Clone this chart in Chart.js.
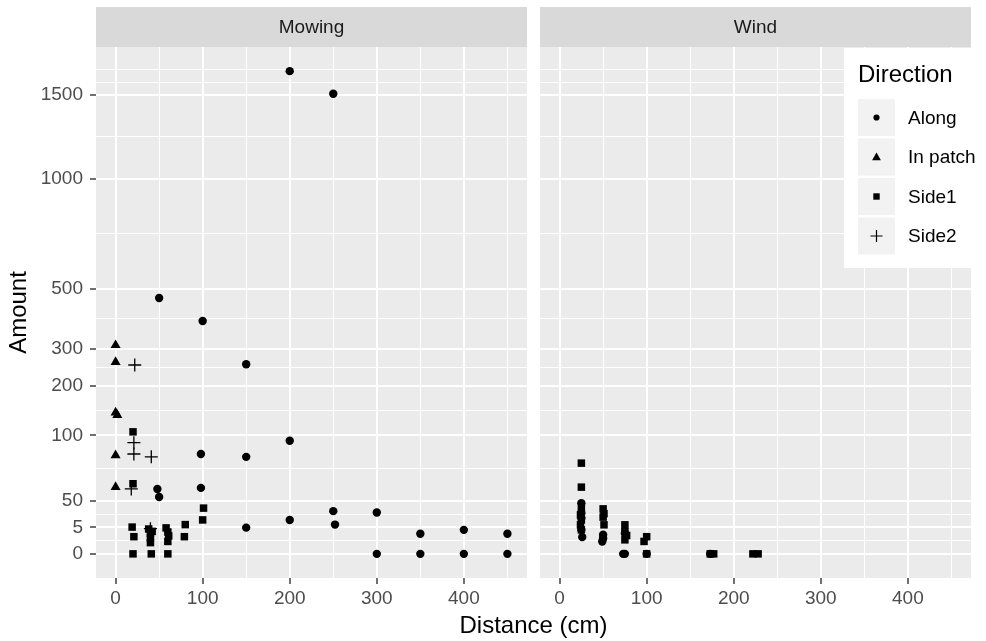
<!DOCTYPE html>
<html><head><meta charset="utf-8">
<script src="https://cdn.jsdelivr.net/npm/chart.js@4.4.1/dist/chart.umd.min.js"></script>
<style>
html,body{margin:0;padding:0;background:#fff;}
#wrap{position:relative;width:986px;height:641px;}
#wrap canvas{position:absolute;left:0;top:0;}
</style></head><body>
<div id="wrap"><canvas id="c1" width="986" height="641"></canvas><canvas id="c2" width="986" height="641"></canvas></div>
<script>
// ---------------- data (Distance cm, Amount) ----------------
const facetLabels = ['Mowing', 'Wind'];
const directions = ['Along', 'In patch', 'Side1', 'Side2'];

const mowingAlong = [[50,466],[100,386],[200,1659],[250,1507],[150,256],[200,91],[98,71],[150,67],[48,30],[50,23],[98,31],[200,8.2],[150,4.9],[250,13],[252,6.1],[300,12.2],[300,0],[350,2.9],[350,0],[400,4.1],[400,0],[450,2.9],[450,0]];
const mowingInPatch = [[0,310],[0,262],[0,142],[2,137],[0,69],[0,31.7]];
const mowingSide1 = [[20,106],[20,35],[19,5.1],[21,2.1],[20,0],[38,4.4],[40,3.0],[42,3.6],[40,1.8],[40,0.9],[41,0],[58,4.8],[60,3.4],[61,2.3],[60,1.1],[60,0],[80,6.1],[79,2.1],[101,14.9],[100,8.2]];
const mowingSide2 = [[22,254],[21,88],[21,71],[41,67],[18,30],[40,4.5]];

const windAlong = [[25,18.3],[25,11.8],[25,9.1],[25,4.1],[26,2.0],[50,2.6],[50,1.75],[49,1.1],[75,3.0],[73,0],[75,0],[100,0],[173,0]];
const windInPatch = [];
const windSide1 = [[25,58.6],[25,31.7],[25,14.4],[24,10.8],[25,8.2],[24,6.0],[25,4.1],[50,14.4],[51,11.5],[50,9.6],[51,6.0],[50,2.1],[75,6.0],[75,3.5],[77,2.4],[75,1.4],[100,2.1],[97,1.1],[100,0],[177,0],[173,0],[222,0],[228,0]];
const windSide2 = [];

// axis ticks
const xTickValues = [0, 100, 200, 300, 400];
const xMinorValues = [50, 150, 250, 350, 450];
const yTickValues = [0, 5, 20, 100, 200, 300, 500, 1000, 1500];
const yTickLabels = ['0', '5', '50', '100', '200', '300', '500', '1000', '1500'];
const yMinorExtra = [1582, 1673];

// ---------------- layout / style ----------------
const FONT = '"Liberation Sans", Arial, Helvetica, sans-serif';
Chart.defaults.font.family = FONT;
const P1 = {left: 96, right: 527};
const P2 = {left: 540, right: 971};
const TOP = 47, BOTTOM = 578, W = 986, H = 641, STRIP = 40;

const allPts = [].concat(mowingAlong, mowingInPatch, mowingSide1, mowingSide2, windAlong, windInPatch, windSide1, windSide2);
const xMaxData = Math.max(...allPts.map(p => p[0]));
const xMinData = Math.min(...allPts.map(p => p[0]));
const yMaxT = Math.sqrt(Math.max(...allPts.map(p => p[1])));
const xSpan = xMaxData - xMinData;

const yMajorT = yTickValues.map(Math.sqrt);
const yMinorT = [];
for (let i = 0; i < yMajorT.length - 1; i++) yMinorT.push((yMajorT[i] + yMajorT[i+1]) / 2);
yMinorExtra.forEach(v => yMinorT.push(Math.sqrt(v)));

const isMajorY = v => yMajorT.some(t => Math.abs(t - v) < 1e-9);
const isMajorX = v => xTickValues.includes(v);

const styles = {
  'Along':    {pointStyle: 'circle',   pointRadius: 4.2, pointBackgroundColor: '#000', pointBorderWidth: 0, pointBorderColor: '#000'},
  'In patch': {pointStyle: 'triangle', pointRadius: 5.8, pointBackgroundColor: '#000', pointBorderWidth: 0, pointBorderColor: '#000'},
  'Side1':    {pointStyle: 'rect',     pointRadius: 5.3, pointBackgroundColor: '#000', pointBorderWidth: 0, pointBorderColor: '#000'},
  'Side2':    {pointStyle: 'crossRot', pointRadius: 6.5, pointBackgroundColor: '#000', pointBorderWidth: 1.3, pointBorderColor: '#000'}
};
styles['Side2'].pointStyle = 'cross';

function toXY(arr) { return arr.map(([x, a]) => ({x: x, y: Math.sqrt(a)})); }
function makeDatasets(sets) {
  return directions.map((d, i) => Object.assign({label: d, data: toXY(sets[i]), showLine: false, pointHoverRadius: 0}, styles[d]));
}

function xScale() {
  return {
    type: 'linear',
    min: xMinData - 0.05 * xSpan,
    max: xMaxData + 0.05 * xSpan,
    afterBuildTicks: s => { s.ticks = xTickValues.concat(xMinorValues).sort((a,b)=>a-b).map(v => ({value: v})); },
    afterFit: s => { s.height = H - BOTTOM; },
    ticks: {autoSkip: false, maxRotation: 0, color: '#4d4d4d', font: {size: 19}, padding: 3,
      callback: v => isMajorX(v) ? String(v) : ''},
    grid: {color: '#ffffff', lineWidth: c => (c.tick && isMajorX(c.tick.value)) ? 2 : 1,
      drawTicks: true, tickLength: 6,
      tickColor: c => (c.tick && isMajorX(c.tick.value)) ? '#333333' : 'rgba(0,0,0,0)', tickWidth: 1.4},
    border: {display: false}
  };
}
function yScale(showLabels) {
  const s = {
    type: 'linear',
    min: -0.05 * yMaxT,
    max: 1.05 * yMaxT,
    afterBuildTicks: sc => { sc.ticks = yMajorT.concat(yMinorT).sort((a,b)=>a-b).map(v => ({value: v})); },
    afterFit: sc => { sc.width = showLabels ? P1.left : 0; },
    ticks: {display: showLabels, autoSkip: false, color: '#4d4d4d', font: {size: 19}, padding: 7,
      callback: v => { const i = yMajorT.findIndex(t => Math.abs(t - v) < 1e-9); return i >= 0 ? yTickLabels[i] : ''; }},
    grid: {color: '#ffffff', lineWidth: c => (c.tick && isMajorY(c.tick.value)) ? 2 : 1,
      drawTicks: showLabels, tickLength: showLabels ? 6 : 0,
      tickColor: c => (c.tick && isMajorY(c.tick.value)) ? '#333333' : 'rgba(0,0,0,0)', tickWidth: 1.4},
    border: {display: false}
  };
  if (showLabels) s.title = {display: true, text: 'Amount', color: '#000', font: {size: 24}, padding: {top: 5, bottom: 0}};
  return s;
}

const panelPlugin = {
  id: 'panel',
  beforeDraw(chart) {
    const {ctx, chartArea: a} = chart;
    ctx.save();
    ctx.fillStyle = '#ebebeb';
    ctx.fillRect(a.left, a.top, a.right - a.left, a.bottom - a.top);
    ctx.restore();
  },
  afterDraw(chart, args, opts) {
    const {ctx, chartArea: a} = chart;
    ctx.save();
    ctx.fillStyle = '#d9d9d9';
    ctx.fillRect(a.left, a.top - STRIP, a.right - a.left, STRIP);
    ctx.fillStyle = '#1a1a1a';
    ctx.font = '19px ' + FONT;
    ctx.textAlign = 'center';
    ctx.textBaseline = 'middle';
    ctx.fillText(opts.label, (a.left + a.right) / 2, a.top - STRIP / 2 + 1);
    if (opts.xTitle) {
      ctx.fillStyle = '#000';
      ctx.font = '24px ' + FONT;
      ctx.fillText(opts.xTitle, (P1.left + P2.right) / 2, 626);
    }
    if (opts.legend) drawLegend(ctx, a);
    ctx.restore();
  }
};

function drawSymbol(ctx, d, x, y) {
  ctx.fillStyle = '#000'; ctx.strokeStyle = '#000';
  ctx.beginPath();
  if (d === 'Along') { ctx.arc(x, y, 3.1, 0, Math.PI * 2); ctx.fill(); }
  else if (d === 'In patch') { ctx.moveTo(x, y - 4.6); ctx.lineTo(x + 4.4, y + 3.2); ctx.lineTo(x - 4.4, y + 3.2); ctx.closePath(); ctx.fill(); }
  else if (d === 'Side1') { ctx.rect(x - 3.2, y - 3.2, 6.4, 6.4); ctx.fill(); }
  else { ctx.lineWidth = 1.2; ctx.moveTo(x - 6, y); ctx.lineTo(x + 6, y); ctx.moveTo(x, y - 6); ctx.lineTo(x, y + 6); ctx.stroke(); }
}
function drawLegend(ctx, a) {
  const right = a.right + 1, top = a.top + 1, w = 128, h = 220;
  const left = right - w;
  ctx.fillStyle = '#ffffff';
  ctx.fillRect(left, top, w, h);
  ctx.fillStyle = '#000';
  ctx.font = '24px ' + FONT;
  ctx.textAlign = 'left'; ctx.textBaseline = 'middle';
  ctx.fillText('Direction', left + 14, top + 27);
  directions.forEach((d, i) => {
    const ky = top + 51 + i * 39.5, kx = left + 14, ks = 37;
    ctx.fillStyle = '#f2f2f2';
    ctx.fillRect(kx, ky, ks, ks);
    drawSymbol(ctx, d, kx + ks / 2, ky + ks / 2);
    ctx.fillStyle = '#000';
    ctx.font = '19px ' + FONT;
    ctx.textAlign = 'left'; ctx.textBaseline = 'middle';
    ctx.fillText(d, left + 64, ky + ks / 2 + 1);
  });
}

function makeChart(id, sets, panel, label, first) {
  return new Chart(document.getElementById(id), {
    type: 'scatter',
    data: {datasets: makeDatasets(sets)},
    options: {
      responsive: false, animation: false,
      layout: {padding: {left: first ? 0 : panel.left, right: W - panel.right, top: TOP, bottom: 0}},
      scales: {x: xScale(), y: yScale(first)},
      plugins: {legend: {display: false}, tooltip: {enabled: false},
        panel: {label: label, xTitle: first ? 'Distance (cm)' : null, legend: !first}}
    },
    plugins: [panelPlugin]
  });
}

makeChart('c1', [mowingAlong, mowingInPatch, mowingSide1, mowingSide2], P1, facetLabels[0], true);
makeChart('c2', [windAlong, windInPatch, windSide1, windSide2], P2, facetLabels[1], false);
</script>
</body></html>
